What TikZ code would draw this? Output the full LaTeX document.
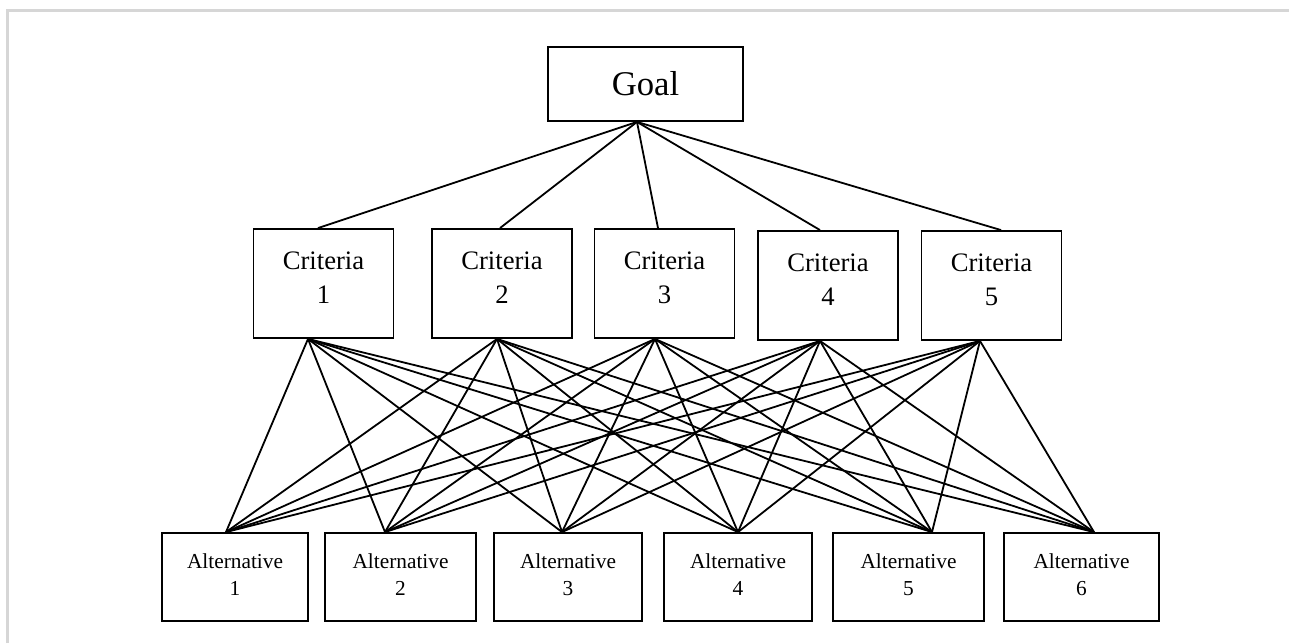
\documentclass[tikz,border=0pt]{standalone}
\usepackage{fontspec}
\setmainfont{Liberation Serif}
\begin{document}
\begin{tikzpicture}[x=0.75pt, y=-0.75pt,
  box/.style={draw, line width=1.4pt, inner sep=0pt, align=center},
  crit/.style={box, minimum width=105pt, minimum height=81.75pt,
    text depth=9pt, font=\fontsize{20}{26}\selectfont},
  alt/.style={box, minimum height=66pt, text depth=4pt,
    font=\fontsize{16}{20}\selectfont},
  link/.style={line width=1.35pt}]
    \useasboundingbox (0, 0) rectangle (1289, 643);

    % Frame
    \draw [line width=2.2pt, black!16] (7.5, 643) -- (7.5, 10.5) -- (1289, 10.5);

    % Goal
    \node [box, minimum width=146.25pt, minimum height=55.5pt,
           font=\fontsize{26}{30}\selectfont] (goal) at (645.5, 84) {Goal};
    \path (goal.south) ++(-8.5, 0) coordinate (gb);

    % Criteria layer
    \foreach \i/\x/\y/\dt/\db in {1/323.5/283.5/-5.5/-15.5, 2/502/283.5/-2/-5,
        3/664.5/283.5/-6.5/-9.5, 4/828/285.5/-8/-8, 5/991.5/285.5/9.5/-11.5} {
      \node [crit] (c\i) at (\x, \y) {Criteria\\\i};
      \path (c\i.north) ++(\dt, 0) coordinate (c\i t);
      \path (c\i.south) ++(\db, 0) coordinate (c\i b);
    }

    % Alternatives layer
    \foreach \j/\x/\w/\dt in {1/235/109.5/-9, 2/400.5/113.25/-15.5, 3/568/111/-6,
        4/738/111/0, 5/908.5/113.25/23.5, 6/1081.5/116.25/12.5} {
      \node [alt, minimum width=\w pt] (a\j) at (\x, 577) {Alternative\\\j};
      \path (a\j.north) ++(\dt, 0) coordinate (a\j t);
    }

    % Connections
    \foreach \i in {1, ..., 5} {
      \draw [link] (gb) -- (c\i t);
    }
    \foreach \i in {1, ..., 5} {
      \foreach \j in {1, ..., 6} {
        \draw [link] (c\i b) -- (a\j t);
      }
    }
\end{tikzpicture}
\end{document}
